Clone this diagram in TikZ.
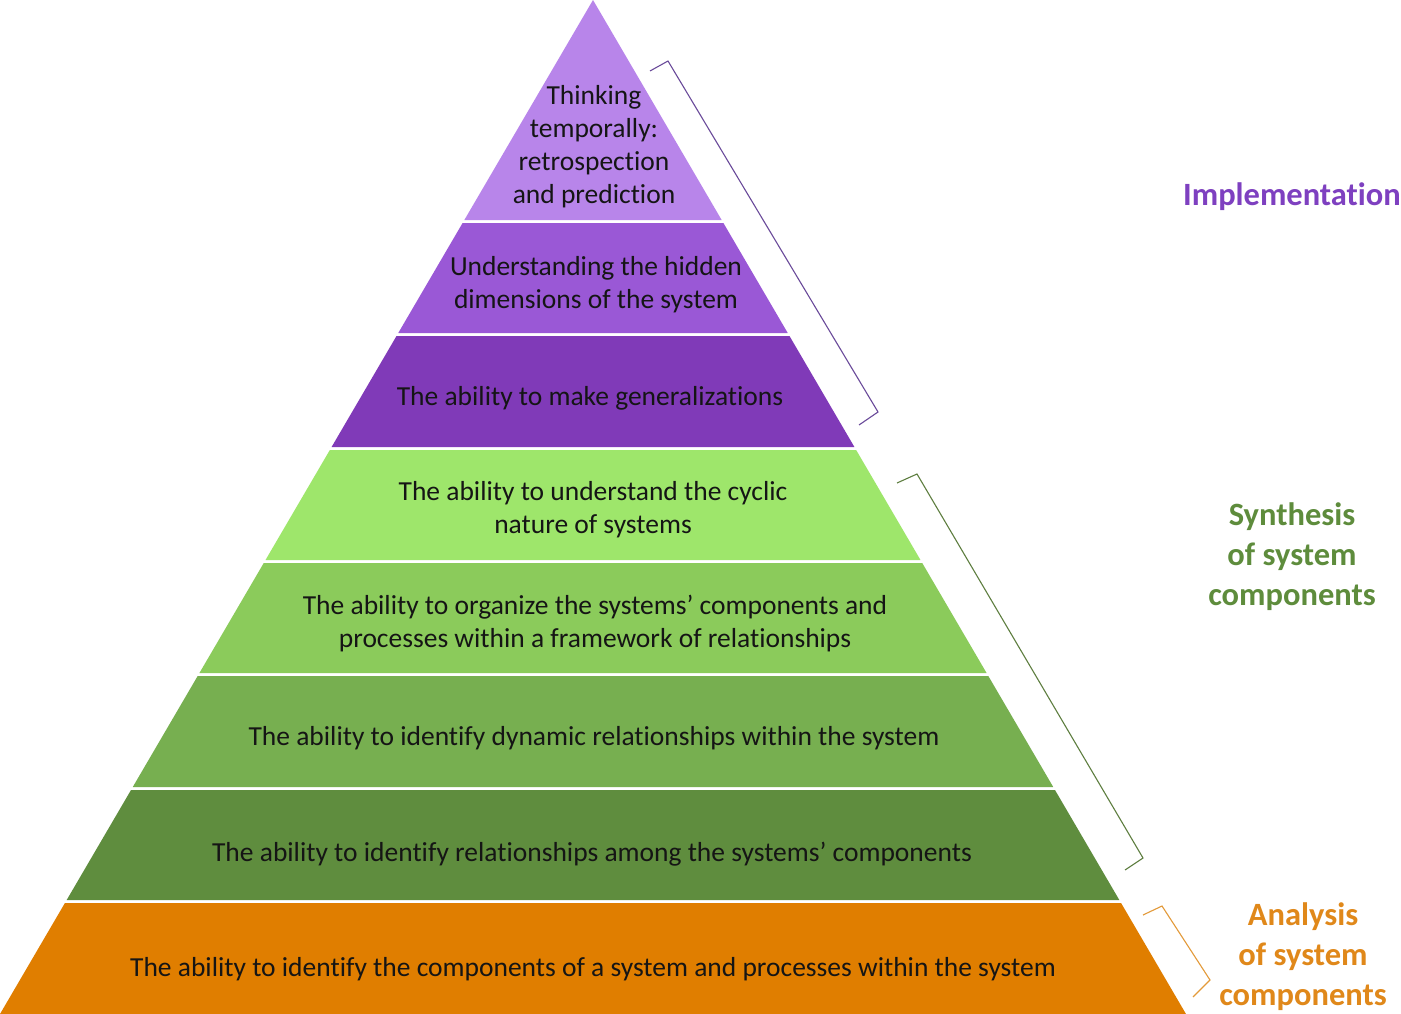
\documentclass[tikz,border=0pt]{standalone}
\usepackage{fontspec}
\setmainfont{Carlito}[Ligatures={NoCommon,NoContextual},RawFeature={-liga}]
\definecolor{pA}{HTML}{B885EA}
\definecolor{pB}{HTML}{9A58D6}
\definecolor{pC}{HTML}{803AB8}
\definecolor{gA}{HTML}{9EE66B}
\definecolor{gB}{HTML}{8BCB5B}
\definecolor{gC}{HTML}{77AF50}
\definecolor{gD}{HTML}{5F8D3E}
\definecolor{oA}{HTML}{E07E00}
\definecolor{txt}{HTML}{151515}
\definecolor{impl}{HTML}{7E40C0}
\definecolor{synth}{HTML}{5E8C3C}
\definecolor{anal}{HTML}{E0881A}
\definecolor{brP}{HTML}{6A4A9A}
\definecolor{brG}{HTML}{5E7E40}
\definecolor{brO}{HTML}{E39A3A}
\newcommand\pyrband[3]{\fill[#3] ({593-0.5848*#1},#1) -- ({593+0.5848*#1},#1) -- ({593+0.5848*#2},#2) -- ({593-0.5848*#2},#2) -- cycle;}
\begin{document}
\begin{tikzpicture}[x=1pt,y=-1pt,
  lbl/.style={text=txt,align=center,inner sep=0pt,font=\fontsize{27.5}{33}\selectfont},
  side/.style={align=center,inner sep=0pt,font=\fontsize{32.5}{40}\selectfont\bfseries},
  brk/.style={line width=1.1pt,line join=miter}]
\useasboundingbox (0,0) rectangle (1401,1014);
\fill[white] (0,0) rectangle (1401,1014);
\pyrband{0}{220}{pA}
\pyrband{223}{333}{pB}
\pyrband{336}{447}{pC}
\pyrband{450}{560}{gA}
\pyrband{563}{673}{gB}
\pyrband{676}{787}{gC}
\pyrband{790}{900}{gD}
\pyrband{903}{1014}{oA}
\node[lbl] (t1) at (594,147) {Thinking\\temporally:\\retrospection\\and prediction};
\node[lbl] (t2) at (596,285) {Understanding the hidden\\dimensions of the system};
\node[lbl] (t3) at (590,398) {The ability to make generalizations};
\node[lbl] (t4) at (593,510) {The ability to understand the cyclic\\nature of systems};
\node[lbl] (t5) at (595,624) {The ability to organize the systems’ components and\\processes within a framework of relationships};
\node[lbl] (t6) at (594,738) {The ability to identify dynamic relationships within the system};
\node[lbl] (t7) at (592,854) {The ability to identify relationships among the systems’ components};
\node[lbl] (t8) at (593,969) {The ability to identify the components of a system and processes within the system};
\coordinate (pb1) at (650,71);
\coordinate (pb2) at (668,61);
\coordinate (pb3) at (878,412);
\coordinate (pb4) at (859,425);
\draw[brk,brP] (pb1) -- (pb2) -- (pb3) -- (pb4);
\coordinate (gb1) at (897,483);
\coordinate (gb2) at (917,474);
\coordinate (gb3) at (1143,858);
\coordinate (gb4) at (1125,870);
\draw[brk,brG] (gb1) -- (gb2) -- (gb3) -- (gb4);
\coordinate (ob1) at (1143,915);
\coordinate (ob2) at (1162,906);
\coordinate (ob3) at (1210,980);
\coordinate (ob4) at (1193,997);
\draw[brk,brO] (ob1) -- (ob2) -- (ob3) -- (ob4);
\node[side,text=impl] (s1) at (1292,197) {Implementation};
\node[side,text=synth] (s2) at (1292,557) {Synthesis\\of system\\components};
\node[side,text=anal] (s3) at (1303,957) {Analysis\\of system\\components};
\end{tikzpicture}
\end{document}
